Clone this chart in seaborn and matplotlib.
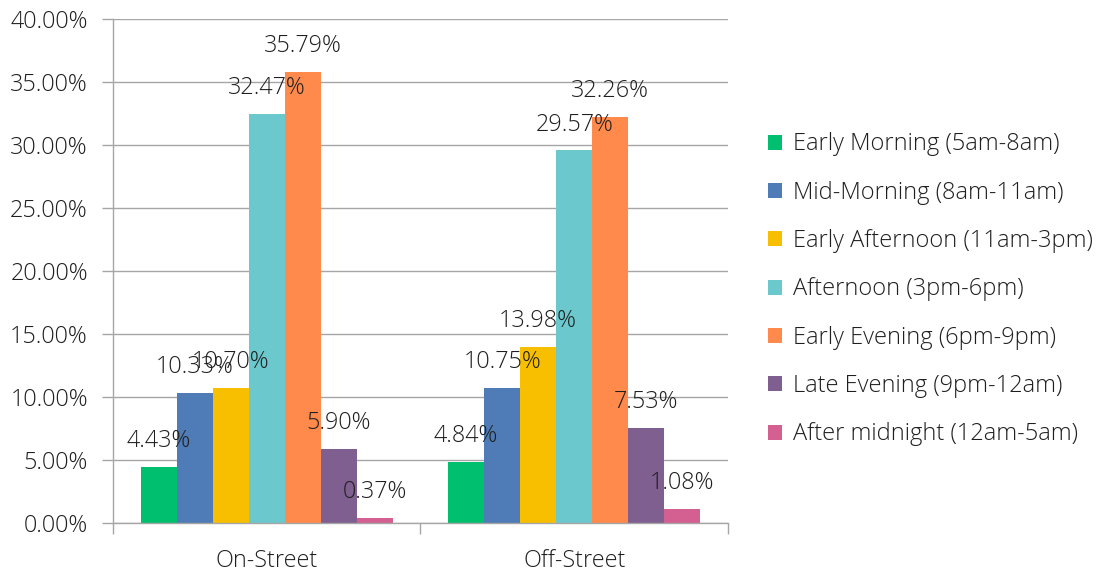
import matplotlib
matplotlib.use("Agg")
import matplotlib.pyplot as plt
import seaborn as sns
import pandas as pd
from matplotlib.ticker import FuncFormatter, FixedLocator
from matplotlib.patches import Patch

categories = ["On-Street", "Off-Street"]
periods = ["Early Morning (5am-8am)", "Mid-Morning (8am-11am)", "Early Afternoon (11am-3pm)",
           "Afternoon (3pm-6pm)", "Early Evening (6pm-9pm)", "Late Evening (9pm-12am)",
           "After midnight (12am-5am)"]
on_street = [4.43, 10.33, 10.70, 32.47, 35.79, 5.90, 0.37]
off_street = [4.84, 10.75, 13.98, 29.57, 32.26, 7.53, 1.08]
colors = ["#00BF6F", "#4F7CB6", "#F8BE00", "#6BC8CD", "#FF8A4C", "#7F5F8F", "#D45F91"]

rows = []
for cat, vals in zip(categories, [on_street, off_street]):
    for p, v in zip(periods, vals):
        rows.append({"Location": cat, "Period": p, "Share": v / 100})
df = pd.DataFrame(rows)

sns.set_theme(style="white")
plt.rcParams["font.family"] = ["Open Sans", "DejaVu Sans"]
plt.rcParams["font.weight"] = "light"
text_color = "#1F1F1F"
grid_color = "#A6A6A6"
fs = 16.8

fig = plt.figure(figsize=(11, 5.72), dpi=100)
ax = fig.add_axes([0.1027, 0.0857, 0.5591, 0.8811])

sns.barplot(data=df, x="Location", y="Share", hue="Period", hue_order=periods,
            order=categories, palette=colors, width=0.82, gap=0, linewidth=0,
            saturation=1, ax=ax, legend=False, errorbar=None)

ax.set_xlim(-0.5, 1.5)
ax.set_ylim(0, 0.40)
ax.yaxis.set_major_locator(FixedLocator([i * 0.05 for i in range(9)]))
ax.yaxis.set_major_formatter(FuncFormatter(lambda v, _: f"{v*100:.2f}%"))
ax.grid(axis="y", color=grid_color, linewidth=1)
ax.set_axisbelow(True)
ax.set_xlabel("")
ax.set_ylabel("")
for s in ["top", "right"]:
    ax.spines[s].set_visible(False)
for s in ["left", "bottom"]:
    ax.spines[s].set_color(grid_color)
    ax.spines[s].set_linewidth(1)

ax.tick_params(axis="y", which="major", length=8, width=1, color=grid_color,
               labelsize=fs, labelcolor=text_color, pad=10, left=True)
ax.tick_params(axis="x", which="major", length=0, labelsize=fs,
               labelcolor=text_color, pad=19)
ax.xaxis.set_minor_locator(FixedLocator([-0.5, 0.5, 1.5]))
ax.tick_params(axis="x", which="minor", length=8, width=1, color=grid_color, bottom=True)

for container in ax.containers:
    for bar in container:
        h = bar.get_height()
        ax.annotate(f"{h*100:.2f}%", (bar.get_x() + bar.get_width() / 2, h),
                    xytext=(0, 10), textcoords="offset points", ha="center", va="bottom",
                    fontsize=16.8, color=text_color)

handles = [Patch(facecolor=c, edgecolor="none") for c in colors]
fig.legend(handles, periods, loc="center left", bbox_to_anchor=(0.679, 0.494),
           frameon=False, fontsize=17, labelcolor=text_color, handlelength=0.6,
           handleheight=0.6, handletextpad=0.45, labelspacing=1.03)

fig.savefig("out.png", dpi=100)
